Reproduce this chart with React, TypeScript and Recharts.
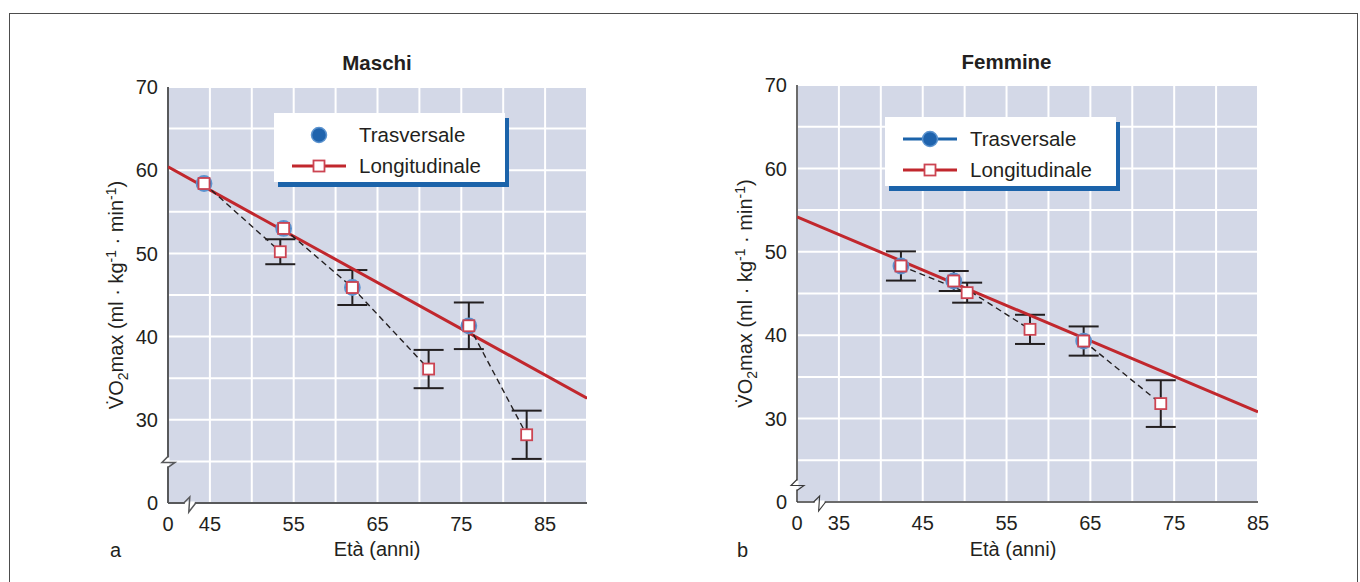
import React from 'react';
import {
  ScatterChart,
  Scatter,
  XAxis,
  YAxis,
  CartesianGrid,
  ErrorBar,
  ReferenceDot,
} from 'recharts';

// Maschi (a)
const MALE_CROSS_AGE = [44.3, 53.8, 62.0, 75.9];
const MALE_CROSS_VO2 = [58.4, 53.0, 45.9, 41.3];
const MALE_LONG_AGE = [44.3, 53.4, 53.8, 62.0, 71.1, 75.9, 82.8];
const MALE_LONG_VO2 = [58.4, 50.2, 53.0, 45.9, 36.1, 41.3, 28.2];
const MALE_LONG_SD = [0, 1.5, 0, 2.1, 2.3, 2.8, 2.9];
const MALE_COHORTS = [[0, 1], [2, 3, 4], [5, 6]];
const MALE_FIT_AGE = [40, 90];
const MALE_FIT_VO2 = [60.4, 32.6];

// Femmine (b)
const FEMALE_CROSS_AGE = [42.4, 48.7, 64.2];
const FEMALE_CROSS_VO2 = [48.3, 46.5, 39.3];
const FEMALE_LONG_AGE = [42.4, 50.3, 48.7, 57.8, 64.2, 73.4];
const FEMALE_LONG_VO2 = [48.3, 45.1, 46.5, 40.7, 39.3, 31.8];
const FEMALE_LONG_SD = [1.75, 1.2, 1.2, 1.75, 1.75, 2.8];
const FEMALE_COHORTS = [[0, 1], [2, 3], [4, 5]];
const FEMALE_FIT_AGE = [30, 85];
const FEMALE_FIT_VO2 = [54.2, 30.8];

// axes
const Y_DOMAIN = [20, 70];
const Y_TICKS = [20, 30, 40, 50, 60, 70];
const Y_GRID = [25, 30, 35, 40, 45, 50, 55, 60, 65];
const MALE_X_DOMAIN = [40, 90];
const MALE_X_TICKS = [40, 45, 55, 65, 75, 85];
const MALE_X_GRID = [45, 50, 55, 60, 65, 70, 75, 80, 85];
const FEMALE_X_DOMAIN = [30, 85];
const FEMALE_X_TICKS = [30, 35, 45, 55, 65, 75, 85];
const FEMALE_X_GRID = [35, 40, 45, 50, 55, 60, 65, 70, 75, 80];

const SERIES_NAMES = ['Trasversale', 'Longitudinale'];

const FONT = '"Liberation Sans", Arial, Helvetica, sans-serif';
const TXT = '#231f20';
const BG = '#d3d8e7';
const RED = '#c1272d';
const SQ_RED = '#cc4452';
const BLUE = '#1f63ad';
const BLUE_RING = '#5b93cf';
const SHADOW = '#1b63aa';
const FS = 20;

type Pt = { x: number; y: number; err: number };

const pts = (ages: number[], vals: number[], sd?: number[]): Pt[] =>
  ages.map((x, i) => ({ x, y: vals[i], err: sd ? sd[i] : 0 }));

const Empty = () => <g />;

const CircleDot = (p: any) => (
  <circle cx={p.cx} cy={p.cy} r={7.5} fill={BLUE} stroke={BLUE_RING} strokeWidth={1.8} />
);

const SquareDot = (p: any) => (
  <rect x={p.cx - 5.5} y={p.cy - 5.5} width={11} height={11} fill="#fff" stroke={SQ_RED} strokeWidth={1.8} />
);

const VoLabel = (props: any) => {
  const vb = props.viewBox || { x: 108, y: 87, width: 60, height: 416 };
  const cx = vb.x + vb.width - 45;
  const cy = vb.y + vb.height / 2;
  return (
    <text
      x={cx}
      y={cy}
      transform={`rotate(-90 ${cx} ${cy})`}
      textAnchor="middle"
      fontSize={FS}
      fill={TXT}
      fontFamily={FONT}
    >
      <tspan>{'V\u0307O'}</tspan>
      <tspan dy={5} fontSize={14}>2</tspan>
      <tspan dy={-5}>max (ml · kg</tspan>
      <tspan dy={-7} fontSize={14}>-1</tspan>
      <tspan dy={7}> · min</tspan>
      <tspan dy={-7} fontSize={14}>-1</tspan>
      <tspan dy={7}>)</tspan>
    </text>
  );
};

const makeBreakY = (color: string, w: number) => (p: any) => {
  const { cx, cy } = p;
  return (
    <g>
      <rect x={cx - 1.5} y={cy - 4} width={3} height={9} fill="#fff" />
      <path
        d={`M${cx},${cy - 5} L${cx - 6},${cy + 1} L${cx + 7},${cy + 1} L${cx},${cy + 6}`}
        stroke={color}
        strokeWidth={w * 0.75}
        fill="none"
      />
    </g>
  );
};

const makeBreakX = (color: string, w: number) => (p: any) => {
  const { cx, cy } = p;
  return (
    <g>
      <rect x={cx - 5} y={cy - 1.5} width={10} height={3} fill="#fff" />
      <path
        d={`M${cx - 6},${cy} L${cx},${cy - 6} L${cx - 1},${cy + 9} L${cx + 6},${cy}`}
        stroke={color}
        strokeWidth={w * 0.75}
        fill="none"
      />
    </g>
  );
};

type PanelProps = {
  left: number;
  margin: { top: number; right: number; bottom: number; left: number };
  xDomain: number[];
  xTicks: number[];
  xGrid: number[];
  cross: Pt[];
  long: Pt[];
  cohorts: number[][];
  fit: Pt[];
  xBreak: number;
  yBreak: number;
  axisColor: string;
  axisWidth: number;
};

const Panel = (p: PanelProps) => {
  const errPts = p.long.filter((d) => d.err > 0);
  const axisLine = { stroke: p.axisColor, strokeWidth: p.axisWidth };
  const tick = { fontSize: FS, fill: TXT, fontFamily: FONT };
  const zeroFmt = (lo: number) => (v: number) => (v === lo ? '0' : String(v));
  return (
    <div style={{ position: 'absolute', left: p.left, top: 0 }}>
      <ScatterChart width={680} height={582} margin={p.margin}>
        <CartesianGrid xAxisId="g" yAxisId="g" fill={BG} fillOpacity={1} stroke="#fff" strokeWidth={2} />
        <XAxis xAxisId="g" type="number" dataKey="x" domain={p.xDomain} ticks={p.xGrid} hide allowDataOverflow />
        <YAxis yAxisId="g" type="number" dataKey="y" domain={Y_DOMAIN} ticks={Y_GRID} hide allowDataOverflow />
        <XAxis
          type="number"
          dataKey="x"
          domain={p.xDomain}
          ticks={p.xTicks}
          interval={0}
          tickFormatter={zeroFmt(p.xDomain[0])}
          axisLine={axisLine}
          tickLine={false}
          tickSize={0}
          tickMargin={14}
          height={30}
          tick={tick}
          allowDataOverflow
        />
        <YAxis
          type="number"
          dataKey="y"
          domain={Y_DOMAIN}
          ticks={Y_TICKS}
          interval={0}
          tickFormatter={zeroFmt(Y_DOMAIN[0])}
          axisLine={axisLine}
          tickLine={false}
          tickSize={0}
          tickMargin={10}
          width={60}
          tick={tick}
          label={<VoLabel />}
          allowDataOverflow
        />
        <Scatter
          data={p.fit}
          line={{ stroke: RED, strokeWidth: 3 }}
          shape={Empty}
          isAnimationActive={false}
        />
        {p.cohorts.map((idx, k) => (
          <Scatter
            key={`c${k}`}
            data={idx.map((i) => p.long[i])}
            line={{ stroke: TXT, strokeWidth: 1.4, strokeDasharray: '6 4' }}
            shape={Empty}
            isAnimationActive={false}
          />
        ))}
        <Scatter data={errPts} shape={Empty} isAnimationActive={false}>
          <ErrorBar dataKey="err" direction="y" width={15} stroke={TXT} strokeWidth={2} isAnimationActive={false} />
        </Scatter>
        <Scatter name={SERIES_NAMES[0]} data={p.cross} shape={CircleDot} isAnimationActive={false} />
        <Scatter name={SERIES_NAMES[1]} data={p.long} shape={SquareDot} isAnimationActive={false} />
        <ReferenceDot
          x={p.xDomain[0]}
          y={p.yBreak}
          r={0}
          ifOverflow="visible"
          shape={makeBreakY(p.axisColor, p.axisWidth)}
        />
        <ReferenceDot
          x={p.xBreak}
          y={Y_DOMAIN[0]}
          r={0}
          ifOverflow="visible"
          shape={makeBreakX(p.axisColor, p.axisWidth)}
        />
      </ScatterChart>
    </div>
  );
};

const Txt = ({ x, y, children, size = FS, bold = false, anchor = 'middle' }: any) => (
  <div
    style={{
      position: 'absolute',
      left: x,
      top: y,
      fontSize: size,
      lineHeight: `${size}px`,
      fontWeight: bold ? 700 : 400,
      whiteSpace: 'nowrap',
      transform: `translate(${anchor === 'middle' ? '-50%' : '0'}, -50%)`,
    }}
  >
    {children}
  </div>
);

const LegendBox = ({ left, top, crossLine }: { left: number; top: number; crossLine: boolean }) => (
  <div
    style={{
      position: 'absolute',
      left,
      top,
      width: 231,
      height: 69,
      background: '#fff',
      boxShadow: `4px 5px 0 ${SHADOW}`,
    }}
  >
    <svg style={{ position: 'absolute', left: 18, top: 12 }} width={56} height={20}>
      {crossLine && <line x1={0} y1={10} x2={54} y2={10} stroke={SHADOW} strokeWidth={3} />}
      <circle cx={27} cy={10} r={7.5} fill={BLUE} stroke={BLUE_RING} strokeWidth={1.5} />
    </svg>
    <svg style={{ position: 'absolute', left: 18, top: 43 }} width={56} height={20}>
      <line x1={0} y1={10} x2={54} y2={10} stroke={RED} strokeWidth={3} />
      <rect x={21.5} y={4.5} width={11} height={11} fill="#fff" stroke={SQ_RED} strokeWidth={1.8} />
    </svg>
    <Txt x={85} y={22} size={20.5} anchor="start">{SERIES_NAMES[0]}</Txt>
    <Txt x={85} y={53} size={20.5} anchor="start">{SERIES_NAMES[1]}</Txt>
  </div>
);

export default function App() {
  const maleCross = pts(MALE_CROSS_AGE, MALE_CROSS_VO2);
  const maleLong = pts(MALE_LONG_AGE, MALE_LONG_VO2, MALE_LONG_SD);
  const maleFit = pts(MALE_FIT_AGE, MALE_FIT_VO2);
  const femaleCross = pts(FEMALE_CROSS_AGE, FEMALE_CROSS_VO2);
  const femaleLong = pts(FEMALE_LONG_AGE, FEMALE_LONG_VO2, FEMALE_LONG_SD);
  const femaleFit = pts(FEMALE_FIT_AGE, FEMALE_FIT_VO2);

  return (
    <div
      style={{
        position: 'absolute',
        left: 0,
        top: 0,
        width: 1360,
        height: 582,
        background: '#fff',
        overflow: 'hidden',
        fontFamily: FONT,
        color: TXT,
      }}
    >
      <div
        style={{
          position: 'absolute',
          left: 9,
          top: 13,
          width: 1347,
          height: 600,
          border: '1px solid #4d4d4d',
          borderBottom: 'none',
        }}
      />
      <Panel
        left={0}
        margin={{ top: 87, right: 93, bottom: 49, left: 108 }}
        xDomain={MALE_X_DOMAIN}
        xTicks={MALE_X_TICKS}
        xGrid={MALE_X_GRID}
        cross={maleCross}
        long={maleLong}
        cohorts={MALE_COHORTS}
        fit={maleFit}
        xBreak={42.6}
        yBreak={25}
        axisColor="#58595b"
        axisWidth={2}
      />
      <Panel
        left={680}
        margin={{ top: 85, right: 102, bottom: 50, left: 57 }}
        xDomain={FEMALE_X_DOMAIN}
        xTicks={FEMALE_X_TICKS}
        xGrid={FEMALE_X_GRID}
        cross={femaleCross}
        long={femaleLong}
        cohorts={FEMALE_COHORTS}
        fit={femaleFit}
        xBreak={32.7}
        yBreak={22.1}
        axisColor="#3a3a3a"
        axisWidth={1.5}
      />
      <Txt x={377} y={62.5} size={20.5} bold>Maschi</Txt>
      <Txt x={1006.5} y={61.5} size={20.5} bold>Femmine</Txt>
      <Txt x={377} y={549}>Età (anni)</Txt>
      <Txt x={1013} y={549}>Età (anni)</Txt>
      <Txt x={110} y={550} anchor="start">a</Txt>
      <Txt x={737} y={550} anchor="start">b</Txt>
      <LegendBox left={274} top={113} crossLine={false} />
      <LegendBox left={885} top={117} crossLine={true} />
    </div>
  );
}
